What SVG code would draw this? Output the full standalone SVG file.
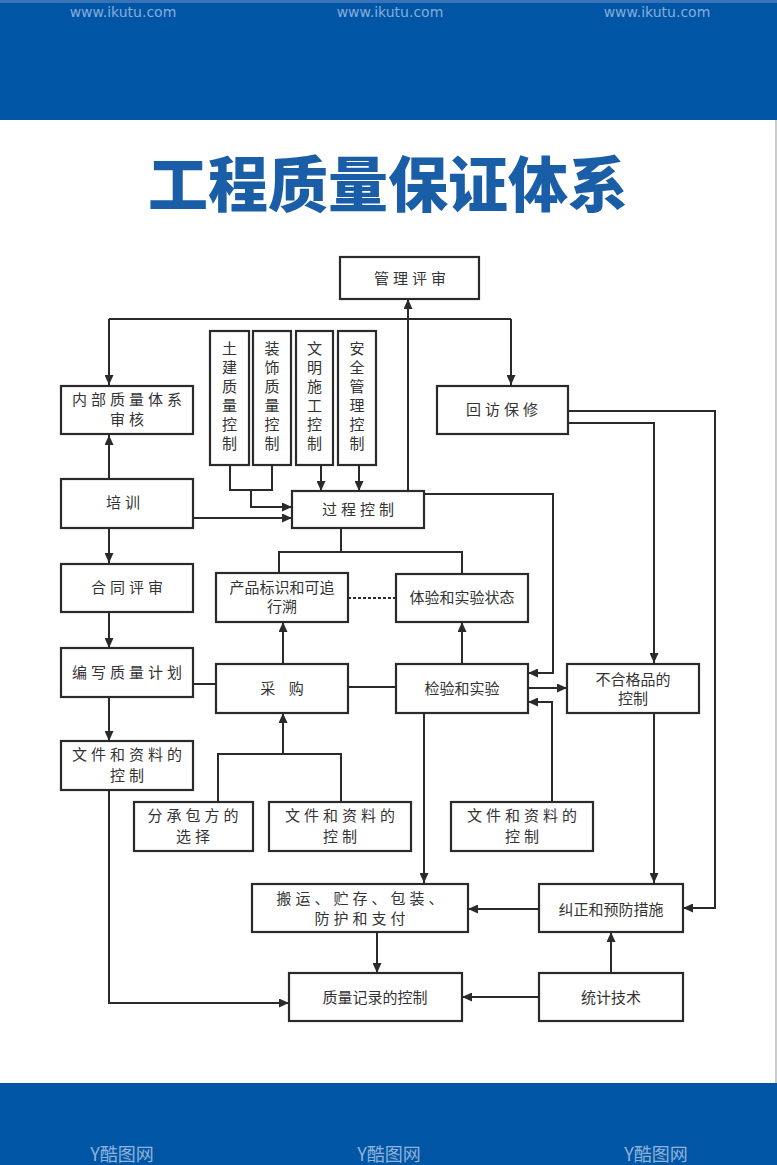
<svg xmlns="http://www.w3.org/2000/svg" width="777" height="1165" viewBox="0 0 777 1165">
<style>
.box{fill:#fff;stroke:#2a2a2a;stroke-width:2.2}
.t{font-family:"Noto Sans CJK SC","Noto Sans",sans-serif;font-size:15px;fill:#333;text-anchor:middle}
.sp{letter-spacing:4px}
.c{fill:none;stroke:#2a2a2a;stroke-width:2}
.wm{font-family:"DejaVu Sans",sans-serif;font-size:14px;fill:#86aedb;text-anchor:middle}
.logo{font-family:"Noto Sans CJK SC",sans-serif;font-size:18px;fill:#8fb3da;text-anchor:middle}
</style>
<defs>
<marker id="ah" markerUnits="userSpaceOnUse" markerWidth="11" markerHeight="9" refX="10" refY="4.5" orient="auto">
<path d="M0,0 L10,4.5 L0,9 z" fill="#2a2a2a"/>
</marker>
</defs>
<rect x="0" y="0" width="777" height="1165" fill="#fff"/>
<rect x="0" y="0" width="777" height="120" fill="#0055a5"/>
<rect x="0" y="0" width="777" height="3" fill="#3a74b8"/>
<rect x="0" y="1083" width="777" height="82" fill="#0055a5"/>
<line x1="776" y1="120" x2="776" y2="1083" stroke="#999" stroke-width="1"/>
<g id="watermarks">
<text class="wm" x="123" y="17">www.ikutu.com</text>
<text class="wm" x="390" y="17">www.ikutu.com</text>
<text class="wm" x="657" y="17">www.ikutu.com</text>
<text class="logo" x="122" y="1161">Y酷图网</text>
<text class="logo" x="389" y="1161">Y酷图网</text>
<text class="logo" x="656" y="1161">Y酷图网</text>
</g>
<text id="title" x="148" y="207" textLength="480" lengthAdjust="spacingAndGlyphs" style="font-family:'Noto Sans CJK SC',sans-serif;font-size:60px;font-weight:900;fill:#1a5ea8">工程质量保证体系</text>

<g id="connectors">
<path class="c" d="M109,319 H511"/>
<path class="c" d="M109,319 V385" marker-end="url(#ah)"/>
<path class="c" d="M511,319 V385" marker-end="url(#ah)"/>
<path class="c" d="M408,491 V299" marker-end="url(#ah)"/>
<path class="c" d="M109,479 V435" marker-end="url(#ah)"/>
<path class="c" d="M230,465 V490 H272 V465"/>
<path class="c" d="M251,490 V507 H292" marker-end="url(#ah)"/>
<path class="c" d="M321,465 V491" marker-end="url(#ah)"/>
<path class="c" d="M359,465 V491" marker-end="url(#ah)"/>
<path class="c" d="M193,518 H292" marker-end="url(#ah)"/>
<path class="c" d="M424,494 H553 V673 H528" marker-end="url(#ah)"/>
<path class="c" d="M568,411 H715 V908 H683" marker-end="url(#ah)"/>
<path class="c" d="M568,423 H654 V663" marker-end="url(#ah)"/>
<path class="c" d="M341,528 V552"/>
<path class="c" d="M279,573 V552 H462 V574"/>
<path class="c" d="M348,598 H396" stroke-dasharray="3,2"/>
<path class="c" d="M109,528 V563" marker-end="url(#ah)"/>
<path class="c" d="M109,612 V648" marker-end="url(#ah)"/>
<path class="c" d="M109,697 V741" marker-end="url(#ah)"/>
<path class="c" d="M193,684 H216"/>
<path class="c" d="M283,664 V622" marker-end="url(#ah)"/>
<path class="c" d="M348,687 H396"/>
<path class="c" d="M462,664 V622" marker-end="url(#ah)"/>
<path class="c" d="M528,688 H567" marker-end="url(#ah)"/>
<path class="c" d="M552,802 V702 H528" marker-end="url(#ah)"/>
<path class="c" d="M424,713 V883" marker-end="url(#ah)"/>
<path class="c" d="M109,790 V1003 H289" marker-end="url(#ah)"/>
<path class="c" d="M218,802 V754 H341 V802"/>
<path class="c" d="M283,754 V713" marker-end="url(#ah)"/>
<path class="c" d="M654,713 V883" marker-end="url(#ah)"/>
<path class="c" d="M539,909 H468" marker-end="url(#ah)"/>
<path class="c" d="M377,932 V973" marker-end="url(#ah)"/>
<path class="c" d="M539,997 H462" marker-end="url(#ah)"/>
<path class="c" d="M611,973 V932" marker-end="url(#ah)"/>
</g>

<g id="n-glps"><rect class="box" x="340" y="257" width="139" height="42"/><text class="t sp" x="412" y="284">管理评审</text></g>
<g id="n-nbzl"><rect class="box" x="61" y="386" width="132" height="48"/><text class="t sp" x="129" y="405">内部质量体系</text><text class="t sp" x="129" y="425">审核</text></g>
<g id="n-hfbx"><rect class="box" x="437" y="386" width="131" height="48"/><text class="t sp" x="504" y="415">回访保修</text></g>
<g id="n-tj"><rect class="box" x="210" y="331" width="39" height="134"/>
<text class="t" x="229.5" y="354">土</text><text class="t" x="229.5" y="373">建</text><text class="t" x="229.5" y="392">质</text><text class="t" x="229.5" y="411">量</text><text class="t" x="229.5" y="430">控</text><text class="t" x="229.5" y="449">制</text></g>
<g id="n-zs"><rect class="box" x="253" y="331" width="38" height="134"/>
<text class="t" x="272" y="354">装</text><text class="t" x="272" y="373">饰</text><text class="t" x="272" y="392">质</text><text class="t" x="272" y="411">量</text><text class="t" x="272" y="430">控</text><text class="t" x="272" y="449">制</text></g>
<g id="n-wm"><rect class="box" x="296" y="331" width="37" height="134"/>
<text class="t" x="314.5" y="354">文</text><text class="t" x="314.5" y="373">明</text><text class="t" x="314.5" y="392">施</text><text class="t" x="314.5" y="411">工</text><text class="t" x="314.5" y="430">控</text><text class="t" x="314.5" y="449">制</text></g>
<g id="n-aq"><rect class="box" x="338" y="331" width="38" height="134"/>
<text class="t" x="357" y="354">安</text><text class="t" x="357" y="373">全</text><text class="t" x="357" y="392">管</text><text class="t" x="357" y="411">理</text><text class="t" x="357" y="430">控</text><text class="t" x="357" y="449">制</text></g>
<g id="n-gckz"><rect class="box" x="292" y="491" width="132" height="37"/><text class="t sp" x="360" y="515">过程控制</text></g>
<g id="n-px"><rect class="box" x="61" y="479" width="132" height="49"/><text class="t sp" x="125" y="508">培训</text></g>
<g id="n-htps"><rect class="box" x="61" y="564" width="132" height="48"/><text class="t sp" x="129" y="593">合同评审</text></g>
<g id="n-cpbs"><rect class="box" x="216" y="573" width="132" height="49"/><text class="t" x="282" y="593">产品标识和可追</text><text class="t" x="282" y="612">行溯</text></g>
<g id="n-tysy"><rect class="box" x="396" y="574" width="132" height="48"/><text class="t" x="462" y="603">体验和实验状态</text></g>
<g id="n-bxzl"><rect class="box" x="61" y="648" width="132" height="49"/><text class="t sp" x="129" y="678">编写质量计划</text></g>
<g id="n-cg"><rect class="box" x="216" y="664" width="132" height="49"/><text class="t" x="282" y="694" xml:space="preserve">采    购</text></g>
<g id="n-jysy"><rect class="box" x="396" y="664" width="132" height="49"/><text class="t" x="462" y="694">检验和实验</text></g>
<g id="n-bhg"><rect class="box" x="567" y="664" width="132" height="49"/><text class="t" x="633" y="685">不合格品的</text><text class="t" x="633" y="704">控制</text></g>
<g id="n-wj1"><rect class="box" x="61" y="741" width="132" height="49"/><text class="t sp" x="129" y="760">文件和资料的</text><text class="t sp" x="129" y="781">控制</text></g>
<g id="n-fcb"><rect class="box" x="134" y="802" width="119" height="49"/><text class="t sp" x="195" y="821">分承包方的</text><text class="t sp" x="195" y="842">选择</text></g>
<g id="n-wj2"><rect class="box" x="269" y="802" width="142" height="49"/><text class="t sp" x="342" y="821">文件和资料的</text><text class="t sp" x="342" y="842">控制</text></g>
<g id="n-wj3"><rect class="box" x="451" y="802" width="142" height="49"/><text class="t sp" x="524" y="821">文件和资料的</text><text class="t sp" x="524" y="842">控制</text></g>
<g id="n-by"><rect class="box" x="252" y="884" width="216" height="48"/><text class="t sp" x="362" y="904">搬运、贮存、包装、</text><text class="t sp" x="362" y="924">防护和支付</text></g>
<g id="n-jz"><rect class="box" x="539" y="884" width="144" height="48"/><text class="t" x="611" y="915">纠正和预防措施</text></g>
<g id="n-zljl"><rect class="box" x="289" y="973" width="173" height="48"/><text class="t" x="375" y="1003">质量记录的控制</text></g>
<g id="n-tjjs"><rect class="box" x="539" y="973" width="144" height="48"/><text class="t" x="611" y="1003">统计技术</text></g>
</svg>
